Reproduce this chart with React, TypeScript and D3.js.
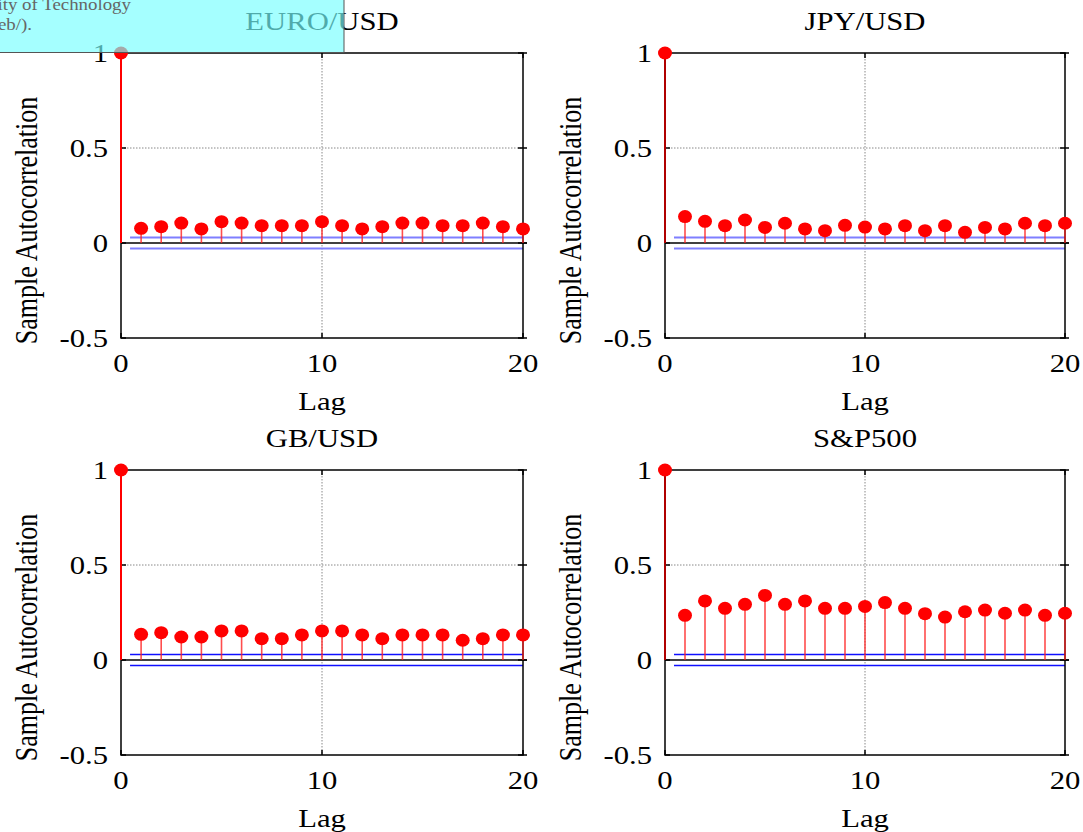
import React from "react";
import * as d3 from "d3";

const lags = d3.range(0, 21);
const titles = ["EURO/USD", "JPY/USD", "GB/USD", "S&P500"];
const euroUsd = [1, 0.077, 0.086, 0.105, 0.074, 0.112, 0.105, 0.091, 0.091, 0.091, 0.112, 0.091, 0.074, 0.086, 0.105, 0.105, 0.091, 0.091, 0.105, 0.086, 0.074];
const jpyUsd = [1, 0.139, 0.114, 0.091, 0.121, 0.082, 0.104, 0.074, 0.065, 0.093, 0.084, 0.074, 0.091, 0.065, 0.091, 0.056, 0.082, 0.074, 0.104, 0.091, 0.104];
const gbUsd = [1, 0.135, 0.144, 0.121, 0.121, 0.153, 0.153, 0.112, 0.112, 0.132, 0.153, 0.153, 0.132, 0.112, 0.132, 0.132, 0.132, 0.104, 0.112, 0.132, 0.132];
const sp500 = [1, 0.235, 0.311, 0.272, 0.293, 0.340, 0.293, 0.311, 0.272, 0.272, 0.282, 0.302, 0.272, 0.244, 0.226, 0.254, 0.263, 0.246, 0.263, 0.235, 0.246];
const seriesList = [euroUsd, jpyUsd, gbUsd, sp500];
const confBound = 0.029;
const yTicks = [-0.5, 0, 0.5, 1];
const xTicks = [0, 10, 20];
const yTickLabels = ["-0.5", "0", "0.5", "1"];
const xLabel = "Lag";
const yLabel = "Sample Autocorrelation";
const noteLines = ["ity of Technology", "eb/)."];

const FONT = "'Liberation Serif', 'Times New Roman', serif";
const SX = 1.18;

const panels = [
  { x0: 121, x1: 523, y0: 53, y1: 338, stem0: "#ff0000", bound: "#7f7fff", bw: 2 },
  { x0: 665, x1: 1065, y0: 53, y1: 338, stem0: "#b00000", bound: "#7f7fff", bw: 2 },
  { x0: 121, x1: 523, y0: 470, y1: 755, stem0: "#ff0000", bound: "#1010ff", bw: 1.5 },
  { x0: 665, x1: 1065, y0: 470, y1: 755, stem0: "#b00000", bound: "#1010ff", bw: 1.5 },
];

function SText({ x, y, anchor, size, children, fill = "#000", rot = false }: any) {
  const t = `translate(${x},${y}) scale(${SX},1)` + (rot ? " rotate(-90)" : "");
  return (
    <g transform={t}>
      <text x={0} y={0} textAnchor={anchor} fontFamily={FONT} fontSize={size} fill={fill}>
        {children}
      </text>
    </g>
  );
}

function Panel({ p, data, title }: any) {
  const x = d3.scaleLinear().domain([0, 20]).range([p.x0, p.x1]);
  const y = d3.scaleLinear().domain([-0.5, 1]).range([p.y1, p.y0]);
  const cx = (p.x0 + p.x1) / 2;
  const cy = (p.y0 + p.y1) / 2;
  return (
    <g>
      {/* grid */}
      <line x1={x(10)} x2={x(10)} y1={p.y0} y2={p.y1} stroke="#888" strokeWidth={1} strokeDasharray="1.5,1.5" />
      <line x1={p.x0} x2={p.x1} y1={y(0.5)} y2={y(0.5)} stroke="#888" strokeWidth={1} strokeDasharray="1.5,1.5" />
      {/* confidence bounds */}
      <line x1={x(0.45)} x2={x(20)} y1={y(confBound)} y2={y(confBound)} stroke={p.bound} strokeWidth={p.bw} />
      <line x1={x(0.45)} x2={x(20)} y1={y(-confBound)} y2={y(-confBound)} stroke={p.bound} strokeWidth={p.bw} />
      {/* baseline */}
      <line x1={p.x0} x2={p.x1 + 4} y1={y(0)} y2={y(0)} stroke="#000" strokeWidth={1.5} />
      {/* box */}
      <rect x={p.x0} y={p.y0} width={p.x1 - p.x0} height={p.y1 - p.y0} fill="none" stroke="#000" strokeWidth={1.5} />
      {/* ticks */}
      {yTicks.map((t) => (
        <g key={"yt" + t}>
          <line x1={p.x0} x2={p.x0 + 5} y1={y(t)} y2={y(t)} stroke="#000" strokeWidth={1.5} />
          <line x1={p.x1 - 5} x2={p.x1 + 4} y1={y(t)} y2={y(t)} stroke="#000" strokeWidth={1.5} />
        </g>
      ))}
      {xTicks.map((t) => (
        <g key={"xt" + t}>
          <line x1={x(t)} x2={x(t)} y1={p.y1} y2={p.y1 - 5} stroke="#000" strokeWidth={1.5} />
          <line x1={x(t)} x2={x(t)} y1={p.y0} y2={p.y0 + 5} stroke="#000" strokeWidth={1.5} />
        </g>
      ))}
      {/* stems */}
      {lags.map((l) => (
        <line
          key={"s" + l}
          x1={x(l)}
          x2={x(l)}
          y1={y(0)}
          y2={y(data[l])}
          stroke={l === 0 ? p.stem0 : "#ff2020"}
          strokeWidth={l === 0 ? 2 : 1.6}
          strokeOpacity={l === 0 ? 1 : 0.8}
        />
      ))}
      {lags.map((l) => (
        <ellipse key={"m" + l} cx={x(l)} cy={y(data[l])} rx={7} ry={6.5} fill="#ff0000" />
      ))}
      {/* labels */}
      {yTicks.map((t, i) => (
        <SText key={"yl" + t} x={p.x0 - 13} y={y(t) + 9} anchor="end" size={26}>
          {yTickLabels[i]}
        </SText>
      ))}
      {xTicks.map((t) => (
        <SText key={"xl" + t} x={x(t)} y={p.y1 + 34} anchor="middle" size={26}>
          {String(t)}
        </SText>
      ))}
      <SText x={cx} y={p.y1 + 72} anchor="middle" size={26}>
        {xLabel}
      </SText>
      <SText x={p.x0 - 84} y={cy + 25} anchor="middle" size={26} rot>
        {yLabel}
      </SText>
      <SText x={cx} y={p.y0 - 23} anchor="middle" size={26}>
        {title}
      </SText>
    </g>
  );
}

export default function App() {
  return (
    <svg
      width={1083}
      height={832}
      style={{ position: "absolute", left: 0, top: 0, background: "#fff" }}
    >
      <rect x={0} y={0} width={1083} height={832} fill="#fff" />
      {panels.map((p, i) => (
        <Panel key={i} p={p} data={seriesList[i]} title={titles[i]} />
      ))}
      {/* overlay note */}
      <rect x={-2} y={-2} width={346} height={55} fill="rgb(120,255,255)" fillOpacity={0.667} />
      <line x1={344} x2={344} y1={0} y2={53} stroke="#555" strokeWidth={1} />
      <line x1={0} x2={344} y1={52.5} y2={52.5} stroke="#555" strokeWidth={1} />
      <SText x={131} y={10} anchor="end" size={16} fill="#666">
        {noteLines[0]}
      </SText>
      <SText x={32} y={30} anchor="end" size={16} fill="#666">
        {noteLines[1]}
      </SText>
    </svg>
  );
}
